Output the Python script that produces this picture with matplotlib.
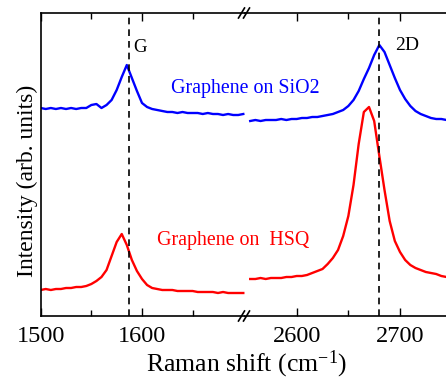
import matplotlib
matplotlib.use("Agg")
import matplotlib.pyplot as plt
from matplotlib.lines import Line2D

plt.rcParams['font.family'] = ['Liberation Serif', 'DejaVu Serif']
plt.rcParams['mathtext.fontset'] = 'custom'
plt.rcParams['mathtext.rm'] = 'Liberation Serif'
plt.rcParams['mathtext.it'] = 'Liberation Serif:italic'

# ---- data (arbitrary intensity units) ----
x_g = [1500, 1505, 1510, 1515, 1520, 1525, 1530, 1535, 1540, 1545, 1550, 1555, 1560, 1565,
       1570, 1575, 1580, 1585, 1590, 1595, 1600, 1605, 1610, 1615, 1620, 1625, 1630, 1635,
       1640, 1645, 1650, 1655, 1660, 1665, 1670, 1675, 1680, 1685, 1690, 1695, 1700]
sio2_g = [208, 207, 208, 207, 208, 207, 208, 207, 208, 208, 211, 212, 208, 211,
          216, 226, 239, 251, 238, 225, 213, 209, 207, 206, 205, 204, 204, 203,
          204, 203, 203, 203, 202, 203, 202, 202, 201, 202, 201, 201, 202]
hsq_g = [26, 27, 26, 27, 27, 28, 28, 29, 29, 30, 32, 35, 39, 46,
         60, 74, 82, 71, 56, 45, 37, 31, 28, 27, 26, 26, 26, 25,
         25, 25, 25, 24, 24, 24, 24, 23, 24, 23, 23, 23, 23]

x_2d = [2555, 2560, 2565, 2570, 2575, 2580, 2585, 2590, 2595, 2600, 2605, 2610, 2615, 2620,
        2625, 2630, 2635, 2640, 2645, 2650, 2655, 2660, 2665, 2670, 2675, 2680, 2685, 2690,
        2695, 2700, 2705, 2710, 2715, 2720, 2725, 2730, 2735, 2740, 2745, 2750, 2755, 2760]
sio2_2d = [195, 196, 195, 196, 196, 196, 197, 196, 197, 197, 198, 198, 199, 199,
           200, 201, 202, 204, 206, 210, 216, 225, 237, 248, 261, 271, 264, 251,
           238, 226, 217, 210, 205, 202, 200, 198, 197, 197, 196, 196, 195, 195]
hsq_2d = [37, 37, 38, 37, 38, 38, 38, 39, 39, 40, 40, 41, 43, 45,
          47, 52, 58, 66, 80, 100, 131, 172, 204, 209, 195, 160, 126, 95,
          75, 64, 56, 51, 48, 46, 44, 43, 42, 40, 39, 39, 38, 38]

g_pos = 1587
d2_pos = 2680
left_ticks = [1500, 1600]
right_ticks = [2600, 2700]

W, H = 446, 380
fig = plt.figure(figsize=(W / 100, H / 100), dpi=100)

x0, xb, x1 = 40.7, 245.0, 470.0
ytop, ybot = 13.0, 316.0
ax1 = fig.add_axes([x0 / W, 1 - ybot / H, (xb - x0) / W, (ybot - ytop) / H])
ax2 = fig.add_axes([xb / W, 1 - ybot / H, (x1 - xb) / W, (ybot - ytop) / H])

lw = 1.7
ax1.plot(x_g, sio2_g, color='#0000ff', lw=lw)
ax1.plot(x_g, hsq_g, color='#ff0000', lw=lw)
ax2.plot(x_2d, sio2_2d, color='#0000ff', lw=lw)
ax2.plot(x_2d, hsq_2d, color='#ff0000', lw=lw)

ax1.axvline(g_pos, color='black', ls=(0, (4, 3)), lw=1.2)
ax2.axvline(d2_pos, color='black', ls=(0, (4, 3)), lw=1.2)

ax1.set_xlim(1500, 1500 + (xb - x0) / 1.013)
ax2.set_xlim(2600 - (296.7 - xb) / 1.033, 2600 + (x1 - 296.7) / 1.033)
for ax in (ax1, ax2):
    ax.set_ylim(0, ybot - ytop)
    ax.set_yticks([])
    ax.tick_params(axis='x', which='both', direction='in', top=True, bottom=True,
                   labelsize=17.5, pad=7)
    ax.tick_params(axis='x', which='major', length=6, width=1)
    ax.tick_params(axis='x', which='minor', length=4, width=1)
    for s in ax.spines.values():
        s.set_linewidth(1.2)

ax1.set_xticks(left_ticks)
ax1.set_xticks([1550, 1650], minor=True)
ax2.set_xticks(right_ticks)
ax2.set_xticks([2650, 2750], minor=True)
ax1.spines['right'].set_visible(False)
ax2.spines['left'].set_visible(False)

ax1.text(1591, 268, 'G', fontsize=13.5, va='center', ha='left')
ax2.text(2695, 271, '2D', fontsize=14, va='center', ha='left')

fig.text(171 / W, 1 - 89 / H, 'Graphene on SiO2', color='#0000ff', fontsize=14.4,
         va='center', ha='left')
fig.text(157 / W, 1 - 241 / H, 'Graphene on  HSQ', color='#ff0000', fontsize=14.4,
         va='center', ha='left')

fig.text(27 / W, 1 - 181 / H, 'Intensity (arb. units)', rotation=90, fontsize=17,
         va='center', ha='center')
fig.text(246 / W, 1 - 371 / H, 'Raman shift (cm$^{-1}$)', fontsize=18.5,
         va='baseline', ha='center')

# break marks
for yb in (ytop, ybot):
    for dx in (-3.5, 1.5):
        xs = [(xb + dx - 3) / W, (xb + dx + 3) / W]
        ys = [1 - (yb + 5) / H, 1 - (yb - 5) / H]
        fig.add_artist(Line2D(xs, ys, color='black', lw=1.2))

fig.savefig('out.png', dpi=100)
